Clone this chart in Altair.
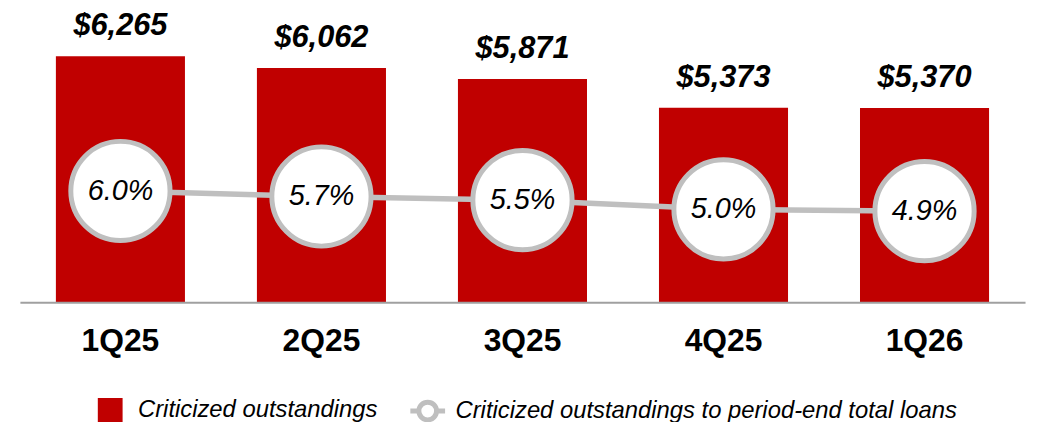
import altair as alt
import pandas as pd

quarters = ["1Q25", "2Q25", "3Q25", "4Q25", "1Q26"]
outstandings = [6265, 6062, 5871, 5373, 5370]
ratio = [6.0, 5.7, 5.5, 5.0, 4.9]
bar_labels = ["$6,265", "$6,062", "$5,871", "$5,373", "$5,370"]
pct_labels = ["6.0%", "5.7%", "5.5%", "5.0%", "4.9%"]
series = ["Criticized outstandings", "Criticized outstandings to period-end total loans"]

RED = "#C00000"
GRAY = "#BFBFBF"
FONT = "Liberation Sans"

df = pd.DataFrame({
    "q": quarters,
    "v": outstandings,
    "r": ratio,
    "bl": bar_labels,
    "pl": pct_labels,
    "s": series[0],
})

xenc = alt.X("q:N", sort=quarters, title=None,
             scale=alt.Scale(paddingInner=0.358, paddingOuter=0.179),
             axis=alt.Axis(labelAngle=0, labelFontSize=32, labelFontWeight="bold",
                           labelFont=FONT, labelColor="black", ticks=False,
                           labelPadding=24, domainColor="#A0A0A0", domainWidth=2,
                           zindex=1))

yscale = alt.Scale(domain=[2010, 6967], nice=False, zero=False)
y2scale = alt.Scale(domain=[-0.065, 15.557], nice=False, zero=False)

square_path = "M-0.571,-0.571L0.571,-0.571L0.571,0.571L-0.571,0.571Z"
circle_path = ("M-1,0L-0.51,0M0.51,0L1,0M-0.51,0A0.51,0.51,0,1,1,0.51,0"
               "A0.51,0.51,0,1,1,-0.51,0Z")

legend = alt.Legend(
    orient="none", legendX=71, legendY=378, direction="horizontal", title=None,
    labelFont=FONT, labelFontSize=24, labelFontStyle="italic", labelColor="black",
    labelLimit=1000,
    symbolSize=1225, labelOffset=8, columnPadding=22, symbolStrokeWidth=5,
    symbolOpacity=1,
)

base = alt.Chart(df)

bars = base.mark_bar(color=RED, opacity=1, clip=True).encode(
    x=xenc,
    y=alt.Y("v:Q", scale=yscale, axis=None),
)
bar_text = base.mark_text(font=FONT, fontSize=31, fontWeight="bold", fontStyle="italic",
                          color="black", baseline="alphabetic", dy=-21).encode(
    x=xenc,
    y=alt.Y("v:Q", scale=yscale, axis=None),
    text="bl:N",
)
legend_layer = base.transform_filter("false").mark_point(opacity=1, strokeWidth=5).encode(
    fill=alt.Fill("s:N", scale=alt.Scale(domain=series, range=[RED, "white"]), legend=legend),
    stroke=alt.Stroke("s:N", scale=alt.Scale(domain=series, range=[RED, GRAY]), legend=legend),
    shape=alt.Shape("s:N", scale=alt.Scale(domain=series, range=[square_path, circle_path]),
                    legend=legend),
)
left = alt.layer(bars, bar_text, legend_layer)

line = base.mark_line(strokeWidth=5.5, color=GRAY, opacity=1).encode(
    x=xenc,
    y=alt.Y("r:Q", scale=y2scale, axis=None),
)
points = base.mark_point(shape="circle", filled=True, fill="white", stroke=GRAY,
                         strokeWidth=5, size=10000, opacity=1, fillOpacity=1).encode(
    x=xenc,
    y=alt.Y("r:Q", scale=y2scale, axis=None),
)
pct_text = base.mark_text(font=FONT, fontSize=29, fontStyle="italic", color="black",
                          baseline="middle").encode(
    x=xenc,
    y=alt.Y("r:Q", scale=y2scale, axis=None),
    text="pl:N",
)
right = alt.layer(line, points, pct_text)

chart = alt.layer(left, right).resolve_scale(y="independent").properties(
    width=1013, height=289,
    autosize=alt.AutoSizeParams(type="none"),
    padding={"left": 12, "top": 6, "right": 5, "bottom": 119},
).configure_view(stroke=None)

chart.save("out.html", embed_options={"renderer": "svg", "actions": False})
